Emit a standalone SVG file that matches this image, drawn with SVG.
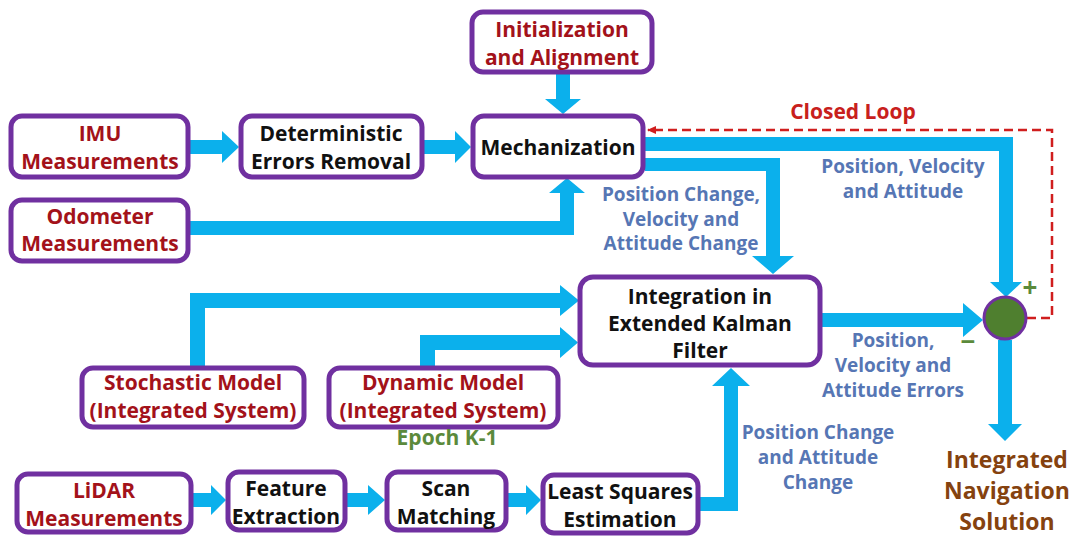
<svg xmlns="http://www.w3.org/2000/svg" width="1078" height="536" viewBox="0 0 1078 536">
  <defs>
    <style>
      .box { fill: #ffffff; stroke: #7030a0; stroke-width: 5; }
      .t { font-family: "Open Sans", "Liberation Sans", sans-serif; font-weight: 700; text-anchor: middle; }
      .bt { font-size: 21px; }
      .red { fill: #a3121a; }
      .blk { fill: #111111; }
      .lbl { font-size: 19px; fill: #5676b4; }
      .arrow { fill: #0bb0ec; }
      .loop { fill: none; stroke: #d01e1e; stroke-width: 2.5; stroke-dasharray: 9 5; }
    </style>
    <marker id="loopHead" markerWidth="10" markerHeight="10" refX="8" refY="5" orient="auto" markerUnits="userSpaceOnUse">
      <path d="M0,1 L9,5 L0,9 Z" fill="#d01e1e"/>
    </marker>
  </defs>
  <rect width="1078" height="536" fill="#ffffff"/>

  <!-- connectors -->
  <g id="connectors">
    <polygon class="arrow" points="190,140 222,140 222,131 239,147 222,163 222,154 190,154"/>
    <polygon class="arrow" points="424,140 455,140 455,131 471,147 455,163 455,154 424,154"/>
    <polygon class="arrow" points="556,73 570,73 570,99 581,99 563,114 545,99 556,99"/>
    <polygon class="arrow" points="190,221 560,221 560,193 549,193 567,178 585,193 574,193 574,235 190,235"/>
    <polygon class="arrow" points="645,137 1013,137 1013,282 1022,282 1006,297 990,282 999,282 999,151 645,151"/>
    <polygon class="arrow" points="645,158 780,158 780,256 794,256 773,274 752,256 766,256 766,171 645,171"/>
    <polygon class="arrow" points="190,366 190,293 560,293 560,285 579,300.5 560,316 560,308 205,308 205,366"/>
    <polygon class="arrow" points="420,366 420,335 560,335 560,327 578,342.5 560,358 560,350 435,350 435,366"/>
    <polygon class="arrow" points="822,313 963,313 963,303 983,320 963,337 963,327 822,327"/>
    <polygon class="arrow" points="998,340 1012,340 1012,424 1022,424 1005,441 988,424 998,424"/>
    <polygon class="arrow" points="699,497 724,497 724,386 712,386 731,368 750,386 738,386 738,511 699,511"/>
    <polygon class="arrow" points="193,493 211,493 211,485 226,500 211,515 211,507 193,507"/>
    <polygon class="arrow" points="346,493 368,493 368,485 385,500 368,515 368,507 346,507"/>
    <polygon class="arrow" points="508,493 526,493 526,485 541,500 526,515 526,507 508,507"/>
    <!-- closed loop feedback -->
    <path class="loop" d="M1027,318 H1052 V130 H648" marker-end="url(#loopHead)"/>
  </g>

  <!-- nodes -->
  <g id="init">
    <rect class="box" x="472" y="12" width="180" height="60" rx="11"/>
    <text class="t bt red" x="562" y="37">Initialization</text>
    <text class="t bt red" x="562" y="65">and Alignment</text>
  </g>
  <g id="imu">
    <rect class="box" x="11" y="116" width="177" height="61" rx="11"/>
    <text class="t bt red" x="100" y="141">IMU</text>
    <text class="t bt red" x="100" y="169">Measurements</text>
  </g>
  <g id="deterministic">
    <rect class="box" x="241" y="116" width="181" height="61" rx="11"/>
    <text class="t bt blk" x="331" y="141">Deterministic</text>
    <text class="t bt blk" x="331" y="169">Errors Removal</text>
  </g>
  <g id="mechanization">
    <rect class="box" x="473" y="116" width="170" height="61" rx="11"/>
    <text class="t bt blk" x="558" y="155">Mechanization</text>
  </g>
  <g id="odometer">
    <rect class="box" x="11" y="200" width="177" height="61" rx="11"/>
    <text class="t bt red" x="100" y="224">Odometer</text>
    <text class="t bt red" x="100" y="251">Measurements</text>
  </g>
  <g id="ekf">
    <rect class="box" x="580" y="277" width="240" height="88" rx="13"/>
    <text class="t bt blk" x="700" y="304">Integration in</text>
    <text class="t bt blk" x="700" y="331">Extended Kalman</text>
    <text class="t bt blk" x="700" y="358">Filter</text>
  </g>
  <g id="stochastic">
    <rect class="box" x="82" y="368" width="222" height="59" rx="11"/>
    <text class="t bt red" x="193" y="390">Stochastic Model</text>
    <text class="t bt red" x="193" y="418">(Integrated System)</text>
  </g>
  <g id="dynamic">
    <rect class="box" x="329" y="368" width="229" height="59" rx="11"/>
    <text class="t bt red" x="443" y="390">Dynamic Model</text>
    <text class="t bt red" x="443" y="418">(Integrated System)</text>
  </g>
  <g id="lidar">
    <rect class="box" x="17" y="474" width="174" height="58" rx="11"/>
    <text class="t bt red" x="104" y="498">LiDAR</text>
    <text class="t bt red" x="104" y="526">Measurements</text>
  </g>
  <g id="feature">
    <rect class="box" x="228" y="472" width="117" height="58" rx="11"/>
    <text class="t bt blk" x="286" y="496">Feature</text>
    <text class="t bt blk" x="286" y="524">Extraction</text>
  </g>
  <g id="scan">
    <rect class="box" x="387" y="472" width="119" height="58" rx="11"/>
    <text class="t bt blk" x="446" y="496">Scan</text>
    <text class="t bt blk" x="446" y="524">Matching</text>
  </g>
  <g id="leastsquares">
    <rect class="box" x="543" y="475" width="155" height="58" rx="11"/>
    <text class="t bt blk" x="620" y="499">Least Squares</text>
    <text class="t bt blk" x="620" y="527">Estimation</text>
  </g>
  <g id="sum">
    <circle cx="1005" cy="318" r="21" fill="#4f7f2f" stroke="#7030a0" stroke-width="3"/>
    <text class="t" x="1030" y="297" font-size="26" fill="#5b8a3b">+</text>
    <text class="t" x="968" y="351" font-size="26" fill="#5b8a3b">−</text>
  </g>

  <!-- labels -->
  <g id="labels">
    <text class="t" x="853" y="119" font-size="21" fill="#c8201c">Closed Loop</text>
    <text class="t lbl" x="903" y="173">Position, Velocity</text>
    <text class="t lbl" x="903" y="198">and Attitude</text>
    <text class="t lbl" x="681" y="201">Position Change,</text>
    <text class="t lbl" x="681" y="226">Velocity and</text>
    <text class="t lbl" x="681" y="250">Attitude Change</text>
    <text class="t lbl" x="893" y="347">Position,</text>
    <text class="t lbl" x="893" y="372">Velocity and</text>
    <text class="t lbl" x="893" y="397">Attitude Errors</text>
    <text class="t lbl" x="818" y="439">Position Change</text>
    <text class="t lbl" x="818" y="464">and Attitude</text>
    <text class="t lbl" x="818" y="489">Change</text>
    <text class="t" x="447" y="445" font-size="21" fill="#5b8a3b">Epoch K-1</text>
    <text class="t" x="1007" y="468" font-size="23" fill="#85420f">Integrated</text>
    <text class="t" x="1007" y="499" font-size="23" fill="#85420f">Navigation</text>
    <text class="t" x="1007" y="530" font-size="23" fill="#85420f">Solution</text>
  </g>
</svg>
